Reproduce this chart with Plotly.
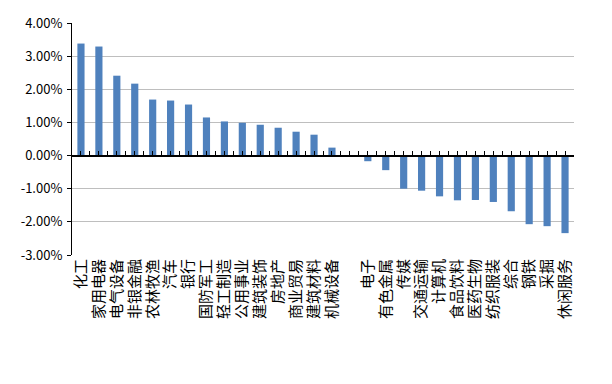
import plotly.graph_objects as go

categories = ["化工", "家用电器", "电气设备", "非银金融", "农林牧渔", "汽车", "银行",
              "国防军工", "轻工制造", "公用事业", "建筑装饰", "房地产", "商业贸易",
              "建筑材料", "机械设备", "", "电子", "有色金属", "传媒", "交通运输",
              "计算机", "食品饮料", "医药生物", "纺织服装", "综合", "钢铁", "采掘", "休闲服务"]
values = [3.38, 3.29, 2.41, 2.17, 1.69, 1.66, 1.54, 1.15, 1.03, 0.99, 0.93, 0.84, 0.72,
          0.63, 0.24, 0.01, -0.17, -0.44, -1.00, -1.06, -1.23, -1.35, -1.34, -1.40,
          -1.68, -2.07, -2.13, -2.34]
ytick_vals = [-3, -2, -1, 0, 1, 2, 3, 4]
ytick_text = ["-3.00%", "-2.00%", "-1.00%", "0.00%", "1.00%", "2.00%", "3.00%", "4.00%"]

idx = list(range(len(categories)))
ymin, ymax = ytick_vals[0], ytick_vals[-1]
half_ticks = [i * 0.5 - 0.5 for i in range(2 * len(categories) + 1)]

FONT = "Noto Sans CJK SC"

fig = go.Figure()
fig.add_trace(go.Bar(x=idx, y=values, marker=dict(color="#4F81BD", line=dict(width=0)),
                     width=0.4, xaxis="x", yaxis="y", showlegend=False))
# invisible trace to activate the zero-crossing axis carrying the tick marks
fig.add_trace(go.Scatter(x=[idx[0]], y=[0], mode="markers", marker=dict(opacity=0),
                         xaxis="x2", yaxis="y", showlegend=False, hoverinfo="skip"))

fig.update_layout(
    width=612, height=384,
    margin=dict(l=72, r=38, t=23, b=129),
    paper_bgcolor="white", plot_bgcolor="white",
    font=dict(family=FONT, size=15, color="black"),
    xaxis=dict(range=[-0.5, len(categories) - 0.5], tickmode="array", tickvals=idx,
               ticktext=categories, tickangle=-90, showgrid=False, zeroline=False,
               showline=False, ticks="", tickfont=dict(family=FONT, size=15, color="black"),
               ticklabelstandoff=0),
    xaxis2=dict(range=[-0.5, len(categories) - 0.5], overlaying="x", anchor="free",
                position=(0 - ymin) / (ymax - ymin), tickmode="array", tickvals=half_ticks,
                ticks="inside", ticklen=4, tickwidth=1, tickcolor="black",
                showticklabels=False, showgrid=False, zeroline=False,
                showline=True, linecolor="black", linewidth=1.5),
    yaxis=dict(range=[ymin, ymax], tickmode="array", tickvals=ytick_vals, ticktext=ytick_text,
               showgrid=True, gridcolor="#BEBEBE", gridwidth=1,
               zeroline=True, zerolinecolor="black", zerolinewidth=1.5,
               showline=True, linecolor="black", linewidth=1,
               ticks="outside", ticklen=4, tickcolor="black", tickwidth=1,
               tickfont=dict(family=FONT, size=13, color="black"), ticklabelstandoff=2),
    bargap=0.6,
)

fig.write_html("out.html")
